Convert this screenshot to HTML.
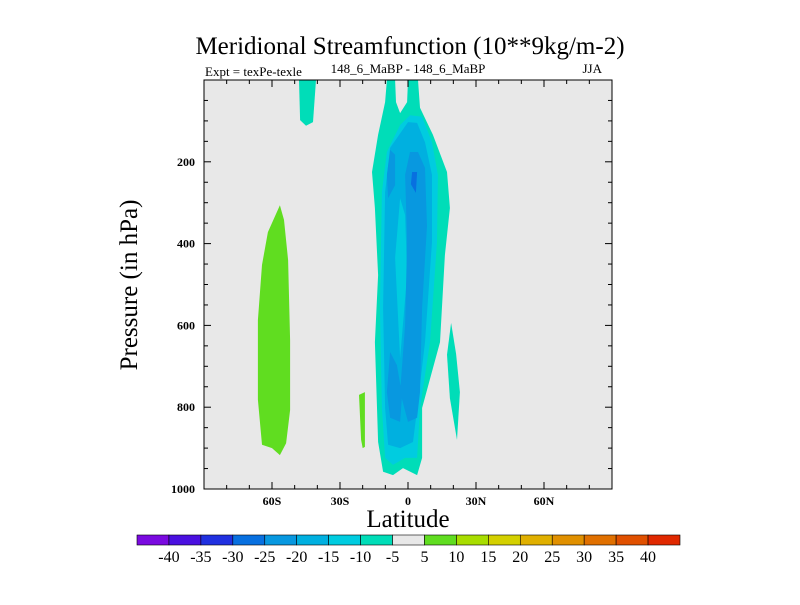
<!DOCTYPE html>
<html><head><meta charset="utf-8"><style>
body{margin:0;background:#fff;}
svg text{font-family:"Liberation Serif",serif;fill:#000;}
</style></head><body>
<svg id="chart" width="800" height="600" viewBox="0 0 800 600" xmlns="http://www.w3.org/2000/svg">
<rect x="0" y="0" width="800" height="600" fill="#fff"/>
<text x="410" y="54" font-size="25" text-anchor="middle">Meridional Streamfunction (10**9kg/m-2)</text>
<text x="205" y="76" font-size="13">Expt = texPe-texle</text>
<text x="408" y="73" font-size="13" text-anchor="middle">148_6_MaBP - 148_6_MaBP</text>
<text x="602" y="73" font-size="13" text-anchor="end">JJA</text>
<text transform="translate(137,285) rotate(-90)" font-size="25" text-anchor="middle">Pressure (in hPa)</text>
<text x="408" y="527" font-size="25" text-anchor="middle">Latitude</text>
<g id="plot"></g>
<g id="axes"></g>
<g id="cbar"></g>
</svg>
<script>
const levels=[-40,-35,-30,-25,-20,-15,-10,-5,5,10,15,20,25,30,35,40];
const levelColors=["#7a0ae0","#4a10e0","#2030e0","#0870e0","#0898e0","#00b0e0","#00cce0","#00ddb8","#e8e8e8","#60dd20","#a8dd00","#d4d000","#e0b000","#e09000","#e07000","#e05000","#e02800"];
const xTickVals=[-60,-30,0,30,60];
const xTickLabels=["60S","30S","0","30N","60N"];
const yTickVals=[200,400,600,800,1000];
// contour regions: [lat, pressure] vertices; value = fill class
const regionValues=[-7,-7,-7,-12,-17,-12,-22,-22,-22,-27,-7,7,7];
const regionShapes=[
 [[-48.1,0],[-47.6,98],[-45,112],[-41.9,103],[-40.6,0]],
 [[-9.3,0],[-10.1,54],[-13.2,134],[-15.9,225],[-14.6,313],[-13.2,477],[-14.6,641],[-13.2,885],[-11,958],[-6.6,966],[-2.2,949],[4,966],[6.2,924],[6.2,802],[14.1,641],[16.3,428],[18.5,313],[17.2,225],[11,134],[5.3,68],[4.4,0],[0,0],[-0.4,54],[-3.5,81],[-5.3,54],[-5.7,0]],
 [[19,594],[17.2,672],[18.5,778],[21.6,880],[22.9,763],[21.2,670]],
 [[0.9,86],[-3.5,110],[-9.3,176],[-11.5,274],[-12.4,557],[-11.5,802],[-10.1,924],[-6.6,941],[-1.3,924],[4,924],[5.3,802],[9.7,641],[12.8,396],[13.2,232],[10.6,152],[6.2,90]],
 [[0,103],[-7.9,166],[-10.1,274],[-11,557],[-10.1,802],[-8.8,892],[-3.5,900],[2.2,885],[4.4,787],[7.5,641],[10.6,396],[10.6,232],[7.5,152],[4,105]],
 [[-3.5,289],[-5.7,435],[-3.5,680],[-0.4,477],[-1.3,330]],
 [[0.9,176],[-1.3,232],[-0.4,396],[-1.3,599],[-3.5,763],[0,836],[4,826],[5.3,763],[6.2,557],[8.4,357],[7.5,215],[4.4,176]],
 [[-7.9,665],[-9.3,763],[-7.9,826],[-3.5,836],[-2.6,770],[-4.9,697]],
 [[-7.9,171],[-9.3,232],[-8.8,289],[-5.7,257],[-5.7,183]],
 [[1.8,225],[4,225],[3.5,276],[1.3,255]],
 [[-99,0],[-99,0],[-99,0]],
 [[-21.6,770],[-19,763],[-19,897],[-20,900],[-20.7,880]],
 [[-56.5,306],[-61.8,372],[-64.4,452],[-66.2,587],[-66.2,782],[-64.4,892],[-60,900],[-56.5,917],[-53.8,888],[-52,807],[-52,636],[-52.9,440],[-54.7,342]]
];
const X0=204,X1=612,Y0=80,Y1=489;
const xs=lat=>X0+(lat+90)/180*(X1-X0);
const ys=p=>Y0+p/1000*(Y1-Y0);
const NS="http://www.w3.org/2000/svg";
function mk(t,a,parent){const e=document.createElementNS(NS,t);for(const k in a)e.setAttribute(k,a[k]);parent.appendChild(e);return e;}
function colorFor(v){let i=0;while(i<levels.length&&v>levels[i])i++;return levelColors[i];}
const plot=document.getElementById('plot');
const bg=mk('rect',{x:X0,y:Y0,width:X1-X0,height:Y1-Y0,fill:'#e8e8e8'},plot);


const cp=mk('clipPath',{id:'clip'},plot);mk('rect',{x:X0,y:Y0,width:X1-X0,height:Y1-Y0},cp);
regionShapes.forEach((s,i)=>{
 const pts=s.map(d=>xs(d[0]).toFixed(1)+','+ys(d[1]).toFixed(1)).join(' ');
 const pg=mk('polygon',{points:pts,fill:colorFor(regionValues[i]),'clip-path':'url(#clip)'},plot);
 
 
});
const ax=document.getElementById('axes');
const fr=mk('rect',{x:X0,y:Y0,width:X1-X0,height:Y1-Y0,fill:'none',stroke:'#000','stroke-width':1},ax);


for(let lat=-80;lat<=80;lat+=10){const x=xs(lat),L=(lat%30===0)?7:4;
 mk('line',{x1:x,x2:x,y1:Y1,y2:Y1-L,stroke:'#000'},ax);mk('line',{x1:x,x2:x,y1:Y0,y2:Y0+L,stroke:'#000'},ax);}
for(let p=50;p<1000;p+=50){const y=ys(p),L=(p%200===0)?7:4;
 mk('line',{x1:X0,x2:X0+L,y1:y,y2:y,stroke:'#000'},ax);mk('line',{x1:X1,x2:X1-L,y1:y,y2:y,stroke:'#000'},ax);}
xTickVals.forEach((v,i)=>{const t=mk('text',{x:xs(v),y:Y1+16,'font-size':12,'font-weight':'bold','text-anchor':'middle'},ax);t.textContent=xTickLabels[i];
 
 });
yTickVals.forEach(v=>{const t=mk('text',{x:X0-9,y:ys(v)+4,'font-size':12,'font-weight':'bold','text-anchor':'end'},ax);t.textContent=v;
 
 });
const cb=document.getElementById('cbar');const CX0=137,CX1=680,CY=535,CH=10,bw=(CX1-CX0)/levelColors.length;
levelColors.forEach((c,i)=>{const r=mk('rect',{x:CX0+i*bw,y:CY,width:bw,height:CH,fill:c,stroke:'#000','stroke-width':0.6},cb);
 
 });
levels.forEach((v,i)=>{const t=mk('text',{x:CX0+(i+1)*bw,y:CY+27,'font-size':16,'text-anchor':'middle'},cb);t.textContent=v;
 
 });
</script>
</body></html>
